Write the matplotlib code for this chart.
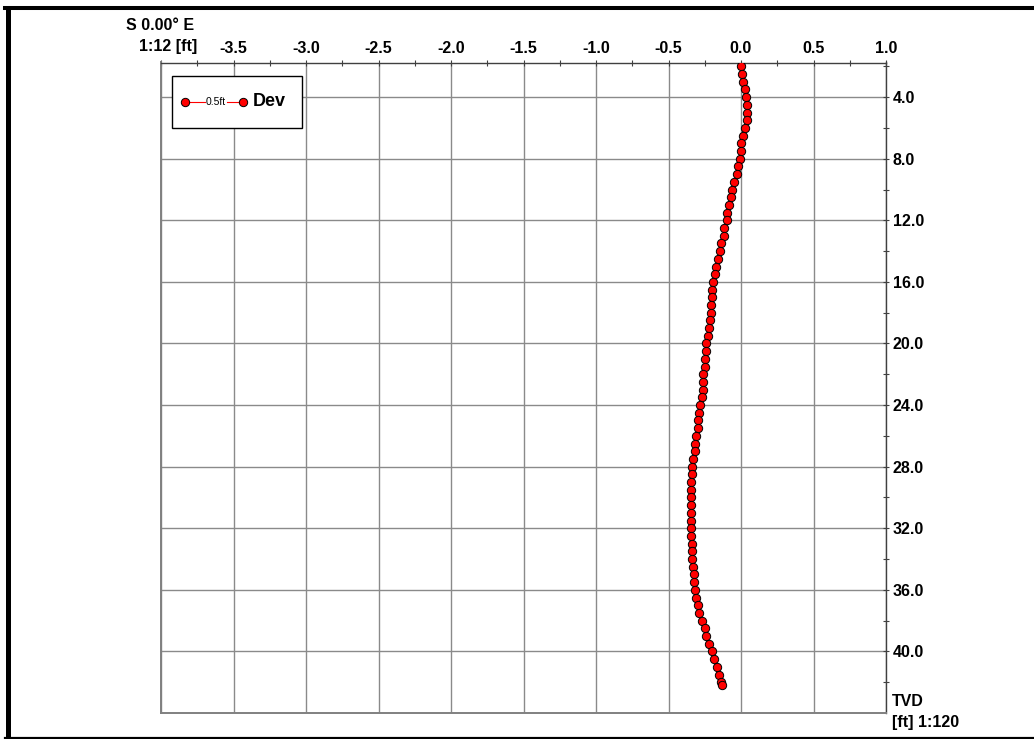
# Well deviation plot: horizontal departure vs true vertical depth

import matplotlib.pyplot as plt
from matplotlib.lines import Line2D

plt.rcParams['font.family'] = ['Liberation Sans', 'DejaVu Sans']

# survey stations (TVD, ft) and deviation (ft)
tvd = [2.0, 2.5, 3.0, 3.5, 4.0, 4.5, 5.0, 5.5, 6.0, 6.5,
       7.0, 7.5, 8.0, 8.5, 9.0, 9.5, 10.0, 10.5, 11.0, 11.5,
       12.0, 12.5, 13.0, 13.5, 14.0, 14.5, 15.0, 15.5, 16.0, 16.5,
       17.0, 17.5, 18.0, 18.5, 19.0, 19.5, 20.0, 20.5, 21.0, 21.5,
       22.0, 22.5, 23.0, 23.5, 24.0, 24.5, 25.0, 25.5, 26.0, 26.5,
       27.0, 27.5, 28.0, 28.5, 29.0, 29.5, 30.0, 30.5, 31.0, 31.5,
       32.0, 32.5, 33.0, 33.5, 34.0, 34.5, 35.0, 35.5, 36.0, 36.5,
       37.0, 37.5, 38.0, 38.5, 39.0, 39.5, 40.0, 40.5, 41.0, 41.5,
       42.0, 42.2]
dev = [0.000, 0.008, 0.015, 0.029, 0.036, 0.038, 0.038, 0.038, 0.031, 0.017,
       0.000, -0.002, -0.006, -0.020, -0.030, -0.045, -0.060, -0.070, -0.084, -0.100,
       -0.100, -0.120, -0.120, -0.138, -0.148, -0.160, -0.170, -0.180, -0.190, -0.200,
       -0.200, -0.208, -0.208, -0.217, -0.220, -0.225, -0.240, -0.240, -0.247, -0.250,
       -0.260, -0.260, -0.262, -0.268, -0.280, -0.287, -0.300, -0.300, -0.307, -0.320,
       -0.320, -0.330, -0.337, -0.337, -0.343, -0.346, -0.346, -0.348, -0.348, -0.348,
       -0.348, -0.343, -0.340, -0.340, -0.340, -0.330, -0.325, -0.323, -0.320, -0.312,
       -0.300, -0.290, -0.270, -0.250, -0.240, -0.220, -0.203, -0.183, -0.165, -0.150,
       -0.138, -0.130]

x_ticks = [-4.0, -3.5, -3.0, -2.5, -2.0, -1.5, -1.0, -0.5, 0.0, 0.5, 1.0]
x_labels = ["", "-3.5", "-3.0", "-2.5", "-2.0", "-1.5", "-1.0", "-0.5", "0.0", "0.5", "1.0"]
x_minor = [-3.75, -3.25, -2.75, -2.25, -1.75, -1.25, -0.75, -0.25, 0.25, 0.75]
y_ticks = [4, 8, 12, 16, 20, 24, 28, 32, 36, 40]
y_labels = ["4.0", "8.0", "12.0", "16.0", "20.0", "24.0", "28.0", "32.0", "36.0", "40.0"]
y_minor = [2, 6, 10, 14, 18, 22, 26, 30, 34, 38, 42]

W, H = 1034, 739
fig = plt.figure(figsize=(W / 100, H / 100), dpi=100)
ax = fig.add_axes([161 / W, 1 - 713 / H, 725 / W, (713 - 62.5) / H])

ax.plot(dev, tvd, '-', color='red', lw=0.8, marker='o', ms=6,
        mfc='red', mec='black', mew=0.7, zorder=3)

ax.set_xlim(-4.0, 1.0)
ax.set_ylim(44.0, 1.75)

ax.xaxis.tick_top()
ax.yaxis.tick_right()
ax.set_xticks(x_ticks)
ax.set_xticklabels(x_labels)
ax.set_xticks(x_minor, minor=True)
ax.set_yticks(y_ticks)
ax.set_yticklabels(y_labels)
ax.set_yticks(y_minor, minor=True)

ax.tick_params(which='both', direction='inout', length=5, width=0.8, color='#404040')
ax.tick_params(axis='x', which='major', pad=2.5, labelsize=11.5)
ax.tick_params(axis='y', which='major', pad=2.5, labelsize=11.5)
for lab in ax.get_xticklabels() + ax.get_yticklabels():
    lab.set_fontweight('bold')

ax.grid(True, which='major', color='#8a8a8a', lw=1)
ax.set_axisbelow(True)

for side in ['top', 'right']:
    ax.spines[side].set_color('#404040')
    ax.spines[side].set_linewidth(1)
for side in ['left', 'bottom']:
    ax.spines[side].set_color('#808080')
    ax.spines[side].set_linewidth(1.4)

# header / footer texts
bold = dict(fontsize=11.5, fontweight='bold', transform=fig.transFigure)
fig.text(160 / W, 1 - 26 / H, "S 0.00° E", ha='center', va='center', **bold)
fig.text(197 / W, 1 - 47 / H, "1:12 [ft]", ha='right', va='center', **bold)
fig.text(892 / W, 1 - 701 / H, "TVD", ha='left', va='center', **bold)
fig.text(892 / W, 1 - 723 / H, "[ft] 1:120", ha='left', va='center', **bold)

# legend box drawn by hand
tf = fig.transFigure
box = plt.Rectangle((172 / W, 1 - 128 / H), 130 / W, 52 / H, transform=tf,
                    facecolor='white', edgecolor='black', lw=1, zorder=5)
fig.add_artist(box)
ly = 1 - 102 / H
fig.add_artist(Line2D([185 / W, 205 / W], [ly, ly], transform=tf, color='red', lw=0.8, zorder=6))
fig.add_artist(Line2D([227 / W, 243 / W], [ly, ly], transform=tf, color='red', lw=0.8, zorder=6))
fig.add_artist(Line2D([185 / W, 243 / W], [ly, ly], transform=tf, ls='none', marker='o',
                      ms=6, mfc='red', mec='black', mew=0.7, zorder=7))
fig.text(216 / W, ly, "0.5ft", ha='center', va='center', fontsize=7.5, zorder=7)
fig.text(253 / W, ly, "Dev", ha='left', va='center', fontsize=13, fontweight='bold', zorder=7)

# outer frame
fig.add_artist(Line2D([7.5 / W, 7.5 / W], [1 - 8 / H, 0], transform=tf, color='black', lw=3.6))
fig.add_artist(Line2D([5 / W, 1], [1 - 8 / H, 1 - 8 / H], transform=tf, color='black', lw=2.9))
fig.add_artist(Line2D([5 / W, 1], [1 - 738 / H, 1 - 738 / H], transform=tf, color='black', lw=2.3))

fig.savefig('out.png', dpi=100)
